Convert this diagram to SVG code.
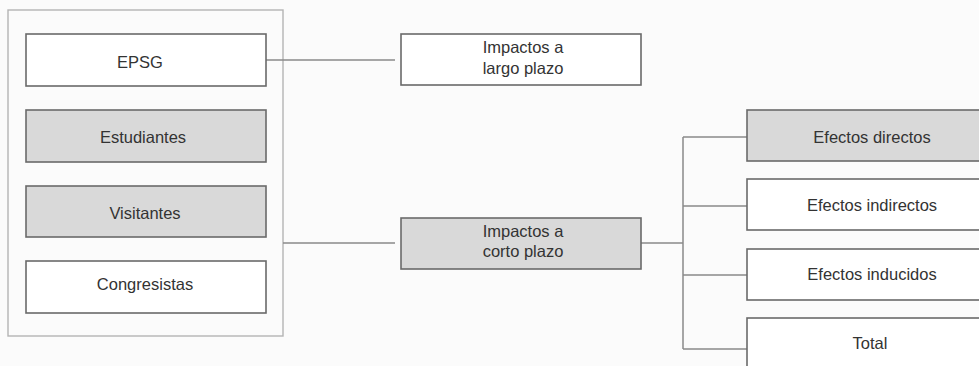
<svg xmlns="http://www.w3.org/2000/svg" width="979" height="366" viewBox="0 0 979 366">
<style>
.bg{fill:#fbfbfb}
.box{stroke:#6a6a6a;stroke-width:1.6}
.w{fill:#ffffff}
.g{fill:#d9d9d9}
.cont{fill:#fbfbfb;stroke:#b4b4b4;stroke-width:1.4}
.ln{stroke:#8a8a8a;stroke-width:1.5;fill:none}
text{font-family:"Liberation Sans",Arial,sans-serif;font-size:16.5px;fill:#333333;text-anchor:middle}
</style>
<rect class="bg" x="0" y="0" width="979" height="366"/>
<g id="container"><rect class="cont" x="8" y="10" width="275" height="326"/></g>
<g id="connectors">
<path class="ln" d="M266 60H395"/>
<path class="ln" d="M283 243H395"/>
<path class="ln" d="M641 243H683"/>
<path class="ln" d="M683 137V349"/>
<path class="ln" d="M683 137H747M683 206H747M683 275H747M683 349H747"/>
</g>
<g id="epsg"><rect class="box w" x="26" y="34" width="240" height="52"/><text x="140" y="68">EPSG</text></g>
<g id="estudiantes"><rect class="box g" x="26" y="110" width="240" height="52"/><text x="143" y="143">Estudiantes</text></g>
<g id="visitantes"><rect class="box g" x="26" y="186" width="240" height="51"/><text x="145" y="219">Visitantes</text></g>
<g id="congresistas"><rect class="box w" x="26" y="261" width="240" height="52"/><text x="145" y="290">Congresistas</text></g>
<g id="largo"><rect class="box w" x="401" y="34" width="240" height="51"/><text x="523" y="53">Impactos a</text><text x="523" y="74">largo plazo</text></g>
<g id="corto"><rect class="box g" x="401" y="218" width="240" height="51"/><text x="523" y="237">Impactos a</text><text x="523" y="257">corto plazo</text></g>
<g id="directos"><rect class="box g" x="747" y="110" width="250" height="51"/><text x="872" y="143">Efectos directos</text></g>
<g id="indirectos"><rect class="box w" x="747" y="179" width="250" height="51"/><text x="872" y="211">Efectos indirectos</text></g>
<g id="inducidos"><rect class="box w" x="747" y="249" width="250" height="51"/><text x="872" y="280">Efectos inducidos</text></g>
<g id="total"><rect class="box w" x="747" y="318" width="250" height="52"/><text x="870" y="349">Total</text></g>
</svg>
